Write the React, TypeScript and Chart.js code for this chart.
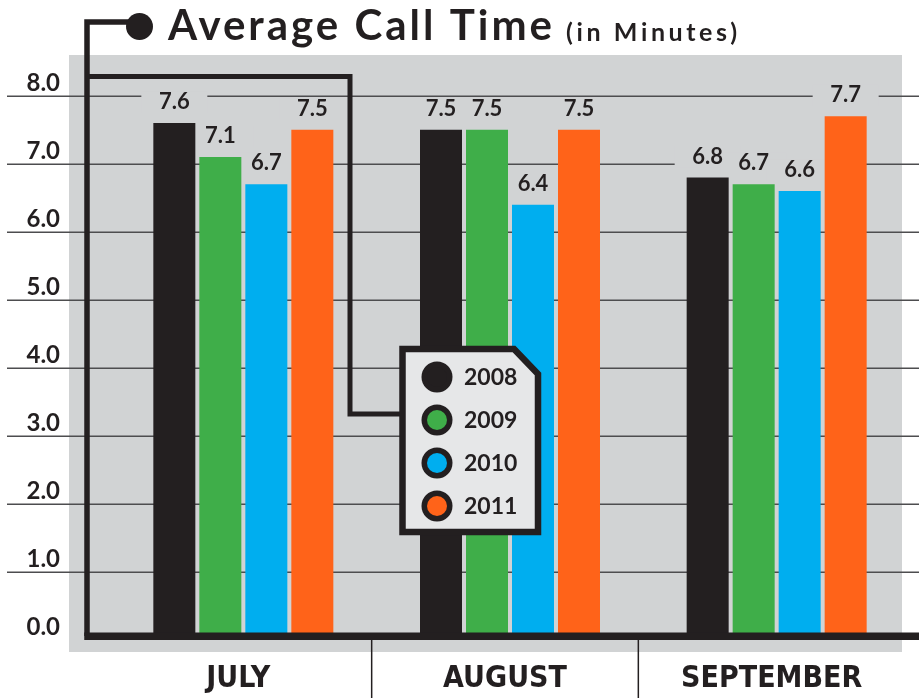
import { useEffect, useRef } from "react";
import { Chart, registerables } from "chart.js";

Chart.register(...registerables);

const months = ["JULY", "AUGUST", "SEPTEMBER"];
const years = ["2008", "2009", "2010", "2011"];
const values2008 = [7.6, 7.5, 6.8];
const values2009 = [7.1, 7.5, 6.7];
const values2010 = [6.7, 6.4, 6.6];
const values2011 = [7.5, 7.5, 7.7];
const yTicks = [0, 1, 2, 3, 4, 5, 6, 7, 8];
const yMax = 8.6;
const titleMain = "Average Call Time";
const titleSub = "(in Minutes)";

const INK = "#231f20";
const PANEL = "#d1d3d4";
const LEGEND_FILL = "#e6e7e8";
const GRID = "#4d4d4f";
const barColors = ["#231f20", "#3fae49", "#00aeef", "#ff6319"];
const SANS = "Lato, 'DejaVu Sans', sans-serif";
const NARROW = "'Liberation Sans Narrow', 'DejaVu Sans Condensed', sans-serif";

function fitText(ctx: any, text: string, x: number, y: number, targetW: number) {
  ctx.letterSpacing = "0px";
  const w = ctx.measureText(text).width;
  const sp = (targetW - w) / Math.max(1, text.length - 1);
  ctx.letterSpacing = `${sp}px`;
  ctx.fillText(text, x, y);
  ctx.letterSpacing = "0px";
}

const decor = {
  id: "decor",
  beforeDraw(chart: any) {
    const { ctx, chartArea: a, width } = chart;
    const ys = chart.scales.y;
    ctx.save();
    ctx.fillStyle = PANEL;
    ctx.fillRect(a.left - 41, a.top, a.right - 8 - (a.left - 41), a.bottom + 12 - a.top);
    ctx.strokeStyle = GRID;
    ctx.lineWidth = 1.5;
    ctx.fillStyle = INK;
    ctx.font = `bold 24px ${SANS}`;
    ctx.textAlign = "right";
    ctx.textBaseline = "middle";
    yTicks.forEach((v) => {
      const py = Math.round(ys.getPixelForValue(v)) + 0.25;
      if (v !== 0) {
        ctx.beginPath();
        ctx.moveTo(7, py);
        ctx.lineTo(width, py);
        ctx.stroke();
      }
      ctx.fillText(v.toFixed(1), a.left - 50, py - 13);
    });
    ctx.restore();
  },
  beforeDatasetsDraw(chart: any) {
    const { ctx } = chart;
    ctx.save();
    ctx.fillStyle = PANEL;
    chart.data.datasets.forEach((_ds: any, i: number) => {
      chart.getDatasetMeta(i).data.forEach((bar: any) => {
        const p = bar.getProps(["x", "y", "width"], true);
        ctx.fillRect(p.x - p.width / 2 - 12, p.y - 21 - 11, p.width + 24, 22);
      });
    });
    ctx.restore();
  },
  afterDatasetsDraw(chart: any) {
    const { ctx, chartArea: a, width, height } = chart;
    const xs = chart.scales.x;
    ctx.save();
    // value labels
    ctx.fillStyle = INK;
    ctx.font = `bold 22px ${SANS}`;
    ctx.textAlign = "center";
    ctx.textBaseline = "middle";
    chart.data.datasets.forEach((ds: any, i: number) => {
      chart.getDatasetMeta(i).data.forEach((bar: any, j: number) => {
        const p = bar.getProps(["x", "y"], true);
        ctx.fillText(Number(ds.data[j]).toFixed(1), p.x, p.y - 21);
      });
    });

    // category separators
    ctx.strokeStyle = INK;
    ctx.lineWidth = 1.5;
    for (let i = 0; i < months.length - 1; i++) {
      const mx = (xs.getPixelForValue(i) + xs.getPixelForValue(i + 1)) / 2 - 5;
      ctx.beginPath();
      ctx.moveTo(mx, a.bottom);
      ctx.lineTo(mx, height);
      ctx.stroke();
    }

    // frame lines
    const fx = 87;
    ctx.lineWidth = 5.5;
    ctx.lineJoin = "miter";
    ctx.lineCap = "butt";
    ctx.beginPath();
    ctx.moveTo(140, 22);
    ctx.lineTo(fx, 22);
    ctx.lineTo(fx, a.bottom - 4);
    ctx.stroke();
    ctx.fillStyle = INK;
    ctx.fillRect(fx - 2.75, a.bottom - 7.5, width - fx + 3, 7.5);

    ctx.lineWidth = 5;
    ctx.beginPath();
    ctx.moveTo(fx, 76.5);
    ctx.lineTo(350, 76.5);
    ctx.lineTo(350, 414);
    ctx.lineTo(404, 414);
    ctx.stroke();

    ctx.beginPath();
    ctx.arc(139.5, 26.5, 13.5, 0, Math.PI * 2);
    ctx.fill();

    // title
    ctx.textAlign = "left";
    ctx.textBaseline = "alphabetic";
    ctx.font = `bold 42px ${SANS}`;
    fitText(ctx, titleMain, 168, 40, 384);
    ctx.font = `bold 25px ${SANS}`;
    fitText(ctx, titleSub, 566, 41, 171);

    // legend
    ctx.fillStyle = LEGEND_FILL;
    ctx.strokeStyle = INK;
    ctx.lineWidth = 6.5;
    ctx.beginPath();
    ctx.moveTo(402.5, 349);
    ctx.lineTo(514, 349);
    ctx.lineTo(538, 374);
    ctx.lineTo(538, 532);
    ctx.lineTo(402.5, 532);
    ctx.closePath();
    ctx.fill();
    ctx.stroke();

    chart.data.datasets.forEach((ds: any, i: number) => {
      const cy = 377 + i * 43;
      ctx.fillStyle = INK;
      ctx.beginPath();
      ctx.arc(437, cy, 15.5, 0, Math.PI * 2);
      ctx.fill();
      ctx.fillStyle = ds.backgroundColor;
      ctx.beginPath();
      ctx.arc(437, cy, 10, 0, Math.PI * 2);
      ctx.fill();
      ctx.fillStyle = INK;
      ctx.font = `bold 23px ${SANS}`;
      ctx.textBaseline = "middle";
      ctx.fillText(ds.label, 464, cy + 1);
    });
    ctx.restore();
  },
};

export default function App() {
  const ref = useRef<HTMLCanvasElement | null>(null);
  useEffect(() => {
    if (!ref.current) return;
    const series = [values2008, values2009, values2010, values2011];
    const chart = new Chart(ref.current, {
      type: "bar",
      data: {
        labels: months,
        datasets: years.map((yr, i) => ({
          label: yr,
          data: series[i],
          backgroundColor: barColors[i],
          borderWidth: 0,
          categoryPercentage: 0.69,
          barPercentage: 0.913,
        })),
      },
      options: {
        responsive: false,
        animation: false,
        layout: { padding: { left: 0, right: 9, top: 55, bottom: 0 } },
        plugins: {
          legend: { display: false },
          tooltip: { enabled: false },
          title: { display: false },
        },
        scales: {
          x: {
            grid: { display: false, drawTicks: false },
            border: { display: false },
            ticks: {
              font: { family: NARROW, weight: "bold", size: 30 },
              color: INK,
              padding: 21,
              labelOffset: -5,
            },
            afterFit: (s: any) => {
              s.height = 58;
            },
          },
          y: {
            min: 0,
            max: yMax,
            grid: { display: false, drawTicks: false },
            border: { display: false },
            ticks: { display: false },
            afterBuildTicks: (s: any) => {
              s.ticks = yTicks.map((v) => ({ value: v }));
            },
            afterFit: (s: any) => {
              s.width = 110;
            },
          },
        },
      } as any,
      plugins: [decor],
    });
    return () => chart.destroy();
  }, []);
  return (
    <div style={{ position: "absolute", left: 0, top: 0, width: 919, height: 698, background: "#fff" }}>
      <canvas ref={ref} width={919} height={698} style={{ display: "block" }} />
    </div>
  );
}
